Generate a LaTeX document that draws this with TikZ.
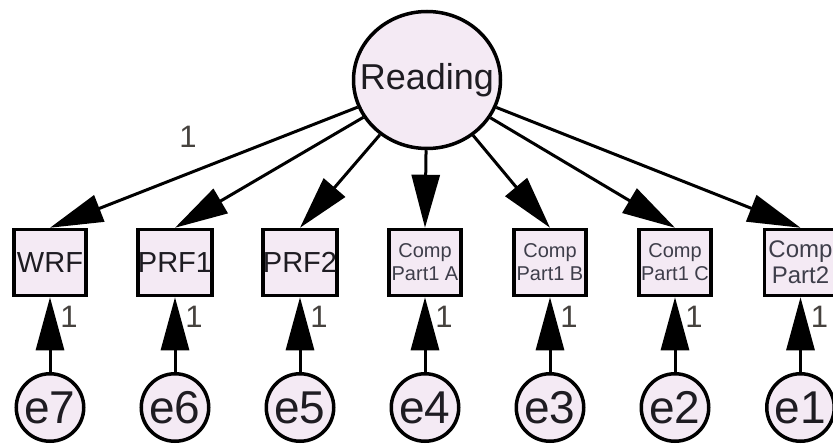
\documentclass[tikz,border=0pt]{standalone}
\usepackage{fontspec}
\setmainfont{Liberation Sans}
\usetikzlibrary{arrows.meta,shapes.geometric}
\definecolor{fillc}{RGB}{244,234,244}
\definecolor{txtc}{RGB}{30,28,34}
\definecolor{comptxt}{RGB}{62,62,74}
\definecolor{onec}{RGB}{70,66,62}
\tikzset{
  obs/.style={draw=black, line width=3.5pt, fill=fillc, minimum width=72pt, minimum height=66pt, inner sep=0pt, text=txtc, font=\fontsize{29}{29}\selectfont},
  obscomp/.style={obs, align=center, text=comptxt, font=\fontsize{20}{23}\selectfont},
  lat/.style={draw=black, ellipse, line width=3.5pt, fill=fillc, minimum width=147pt, minimum height=137pt, inner sep=0pt},
  err/.style={draw=black, circle, line width=3.5pt, fill=fillc, minimum size=67.5pt, inner sep=0pt, text=txtc, font=\fontsize{46}{46}\selectfont},
  conn/.style={line width=3pt, -{Triangle[length=53pt,width=28pt]}},
  one/.style={inner sep=0pt, text=onec, font=\fontsize{31}{31}\selectfont}
}
\begin{document}
\begin{tikzpicture}[x=1pt,y=-1pt]
\useasboundingbox (0,0) rectangle (833,444);
\clip (0,0) rectangle (833,444);
\fill[white] (0,0) rectangle (833,444);
\node[lat, label={[text=txtc, font=\fontsize{36}{36}\selectfont]center:Reading}] (R) at (427,80) {};
\node[obs] (b7) at (50,262.5) {WRF};
\node[obs] (b6) at (175,262.5) {PRF1};
\node[obs] (b5) at (300,262.5) {PRF2};
\node[obscomp] (b4) at (425,262.5) {Comp\\Part1 A};
\node[obscomp] (b3) at (550,262.5) {Comp\\Part1 B};
\node[obscomp] (b2) at (675,262.5) {Comp\\Part1 C};
\node[obscomp, font=\fontsize{24}{26}\selectfont] (b1) at (800.5,262.5) {Comp\\Part2};
\foreach \i/\x in {7/50,6/175,5/300,4/425,3/550,2/675,1/800.5}{
  \node[err] (e\i) at (\x,407.5) {e\i};
  \draw[conn] (e\i) -- (b\i.south);
  \node[one] (o\i) at (\x+19,317) {1};
  \draw[conn] (R) -- (b\i.north);
}
\node[one] (top1) at (188,137) {1};
\end{tikzpicture}
\end{document}
